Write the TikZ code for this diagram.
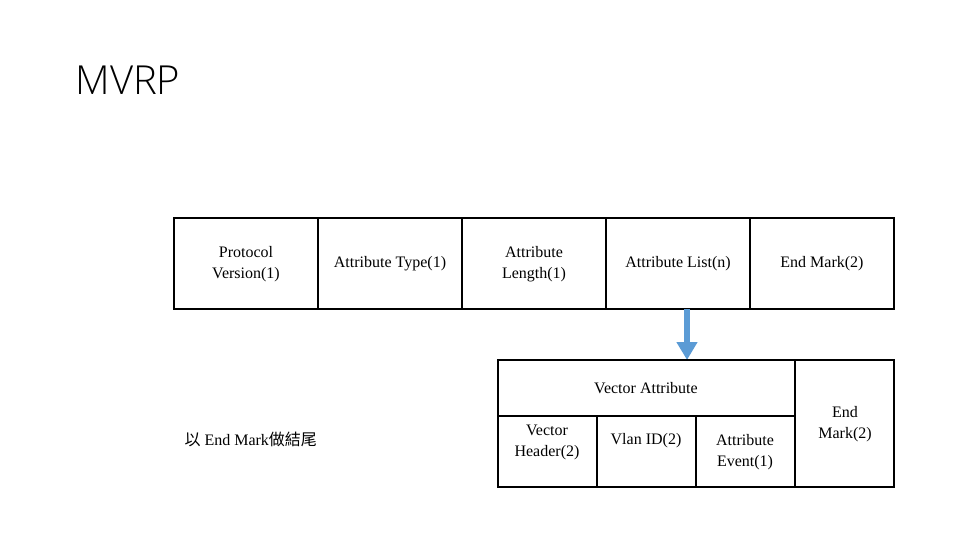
\documentclass[tikz,border=0pt]{standalone}
\usepackage{fontspec}
\setmainfont{Liberation Serif}
\newfontfamily\titlefont{Open Sans Light}
\newfontfamily\cjk{Noto Sans CJK TC}
\usetikzlibrary{arrows.meta}
\begin{document}
\begin{tikzpicture}[x=1pt,y=-1pt,
  cell/.style={draw,line width=1.5pt,inner sep=0pt},
  lbl/.style={font=\fontsize{16}{21}\selectfont,align=center},
  bigarrow/.style={draw=blue!45!cyan!70!black!80,color={rgb,255:red,91;green,155;blue,213},line width=6pt,-{Triangle[length=18pt,width=20pt]}}]
\useasboundingbox (0,0) rectangle (960,540);
\node[anchor=west,font=\titlefont\fontsize{40}{40}\selectfont] (title) at (72,80) {MVRP};
% top row
\foreach \i/\t in {0/{Protocol\\Version(1)},1/{Attribute Type(1)},2/{Attribute\\Length(1)},3/{Attribute List(n)},4/{End Mark(2)}}{
  \draw[cell] ({174+144*\i},218) rectangle ({318+144*\i},309);
  \node[lbl] (t\i) at ({246+144*\i},264) {\t};
}
\coordinate (aTop) at (687,309);
\coordinate (aBot) at (687,360);
\draw[bigarrow] (aTop) -- (aBot);
% lower box
\draw[cell] (498,360) rectangle (894,487);
\draw[cell] (498,416) -- (795,416);
\draw[cell] (795,360) -- (795,487);
\draw[cell] (597,416) -- (597,487);
\draw[cell] (696,416) -- (696,487);
\node[lbl] (va) at (646,388) {Vector Attribute};
\node[lbl] (vh) at (547,442) {Vector\\Header(2)};
\node[lbl] (vid) at (646,441) {Vlan ID(2)};
\node[lbl] (ae) at (745,452) {Attribute\\Event(1)};
\node[lbl] (em) at (845,424) {End\\Mark(2)};
\node[lbl,anchor=west] (note) at (181,439) {{\cjk 以} End Mark{\cjk 做結尾}};
\end{tikzpicture}
\end{document}
